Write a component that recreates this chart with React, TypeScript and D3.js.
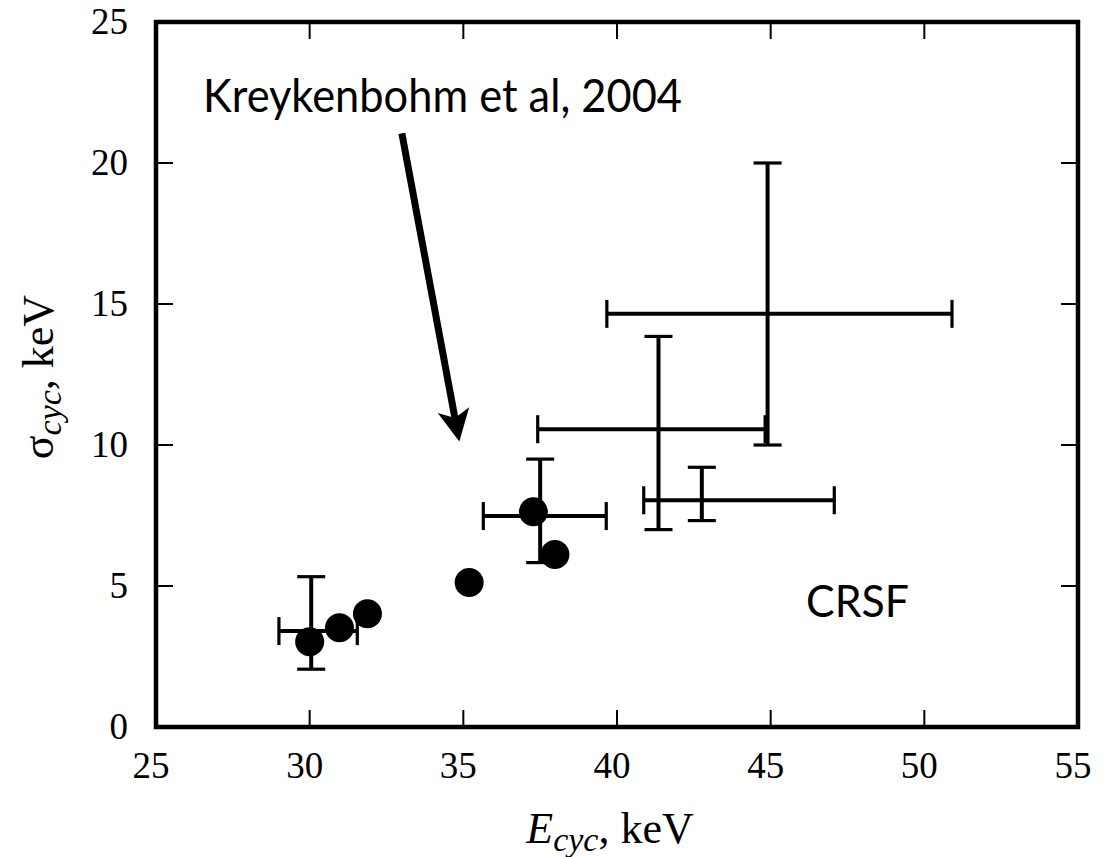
import React from "react";
import * as d3 from "d3";

// Data points (E_cyc, sigma_cyc)
const pointE = [30.0, 30.97, 31.88, 35.19, 37.28, 37.98];
const pointSigma = [3.02, 3.52, 4.02, 5.12, 7.63, 6.12];

// Error bars: centre and ranges
const errE = [30.05, 37.5, 44.9, 41.35, 42.76];
const errSigma = [3.4, 7.48, 14.65, 10.56, 8.04];
const errELo = [29.0, 35.65, 39.67, 37.42, 40.87];
const errEHi = [31.55, 39.65, 50.9, 44.82, 47.07];
const errSigmaLo = [2.05, 5.83, 10.0, 7.0, 7.32];
const errSigmaHi = [5.33, 9.5, 20.0, 13.85, 9.21];

const xTicks = [25, 30, 35, 40, 45, 50, 55];
const yTicks = [0, 5, 10, 15, 20, 25];

// Annotation arrow (data coords): tail -> tip
const arrowFrom = [33.0, 21.05];
const arrowTo = [34.87, 10.12];
const annotationText = "Kreykenbohm et al, 2004";
const crsfText = "CRSF";

const W = 1104;
const H = 857;

export default function App() {
  const x = d3.scaleLinear().domain([25, 55]).range([156, 1078]);
  const y = d3.scaleLinear().domain([0, 25]).range([727, 22]);
  const tickLen = 17;
  const cap = 14;
  const serif = "'Liberation Serif', 'Times New Roman', serif";
  const sans = "Lato, 'Open Sans', sans-serif";

  // arrow geometry
  const ax1 = x(arrowFrom[0]), ay1 = y(arrowFrom[1]);
  const ax2 = x(arrowTo[0]), ay2 = y(arrowTo[1]);
  const ang = Math.atan2(ay2 - ay1, ax2 - ax1);
  const headLen = 32, headHalf = 16;
  const bx = ax2 - headLen * Math.cos(ang);
  const by = ay2 - headLen * Math.sin(ang);
  const px = -Math.sin(ang), py = Math.cos(ang);
  const notch = 8;
  const nx = ax2 - (headLen - notch) * Math.cos(ang);
  const ny = ay2 - (headLen - notch) * Math.sin(ang);
  const headPath = `M${ax2},${ay2} L${bx + px * headHalf},${by + py * headHalf} L${nx},${ny} L${bx - px * headHalf},${by - py * headHalf} Z`;

  return (
    <svg width={W} height={H} style={{ position: "absolute", left: 0, top: 0, background: "#fff" }}>
      {/* ticks bottom/top */}
      {xTicks.slice(1, -1).map((t) => (
        <g key={"xt" + t} stroke="#000" strokeWidth={2}>
          <line x1={x(t)} x2={x(t)} y1={y(0)} y2={y(0) - tickLen} />
          <line x1={x(t)} x2={x(t)} y1={y(25)} y2={y(25) + tickLen} />
        </g>
      ))}
      {yTicks.slice(1, -1).map((t) => (
        <g key={"yt" + t} stroke="#000" strokeWidth={2}>
          <line x1={x(25)} x2={x(25) + tickLen} y1={y(t)} y2={y(t)} />
          <line x1={x(55)} x2={x(55) - tickLen} y1={y(t)} y2={y(t)} />
        </g>
      ))}
      {/* frame */}
      <rect x={x(25)} y={y(25)} width={x(55) - x(25)} height={y(0) - y(25)} fill="none" stroke="#000" strokeWidth={4.5} />

      {/* tick labels */}
      {xTicks.map((t) => (
        <text key={"xl" + t} x={x(t) - 5} y={778} textAnchor="middle" fontFamily={serif} fontSize={37} fill="#000">
          {t}
        </text>
      ))}
      {yTicks.map((t) => (
        <text key={"yl" + t} x={128} y={y(t) + 12} textAnchor="end" fontFamily={serif} fontSize={37} fill="#000">
          {t}
        </text>
      ))}

      {/* axis titles */}
      <text x={610} y={843} textAnchor="middle" fontFamily={serif} fontSize={44} fill="#000">
        <tspan fontStyle="italic">E</tspan>
        <tspan fontStyle="italic" fontSize={34} dy={8}>cyc</tspan>
        <tspan dy={-8}>, keV</tspan>
      </text>
      <text transform={`translate(53,${377}) rotate(-90)`} textAnchor="middle" fontFamily={serif} fontSize={44} fill="#000">
        <tspan>σ</tspan>
        <tspan fontStyle="italic" fontSize={34} dy={8}>cyc</tspan>
        <tspan dy={-8}>, keV</tspan>
      </text>

      {/* error bars */}
      {errE.map((e, i) => (
        <g key={"eb" + i} stroke="#000" strokeWidth={4}>
          <line x1={x(errELo[i])} x2={x(errEHi[i])} y1={y(errSigma[i])} y2={y(errSigma[i])} />
          <line x1={x(errELo[i])} x2={x(errELo[i])} y1={y(errSigma[i]) - cap} y2={y(errSigma[i]) + cap} strokeWidth={3.2} />
          <line x1={x(errEHi[i])} x2={x(errEHi[i])} y1={y(errSigma[i]) - cap} y2={y(errSigma[i]) + cap} strokeWidth={3.2} />
          <line x1={x(e)} x2={x(e)} y1={y(errSigmaLo[i])} y2={y(errSigmaHi[i])} />
          <line x1={x(e) - cap} x2={x(e) + cap} y1={y(errSigmaLo[i])} y2={y(errSigmaLo[i])} strokeWidth={3.2} />
          <line x1={x(e) - cap} x2={x(e) + cap} y1={y(errSigmaHi[i])} y2={y(errSigmaHi[i])} strokeWidth={3.2} />
        </g>
      ))}

      {/* points */}
      {pointE.map((e, i) => (
        <circle key={"p" + i} cx={x(e)} cy={y(pointSigma[i])} r={14.5} fill="#000" />
      ))}

      {/* annotation */}
      <line x1={ax1} y1={ay1} x2={nx} y2={ny} stroke="#000" strokeWidth={7} />
      <path d={headPath} fill="#000" />
      <text x={203} y={112} fontFamily={sans} fontSize={47} fill="#000" textLength={479} lengthAdjust="spacingAndGlyphs">
        {annotationText}
      </text>
      <text x={806} y={617} fontFamily={sans} fontSize={45} fill="#000" textLength={103} lengthAdjust="spacingAndGlyphs">
        {crsfText}
      </text>
    </svg>
  );
}
